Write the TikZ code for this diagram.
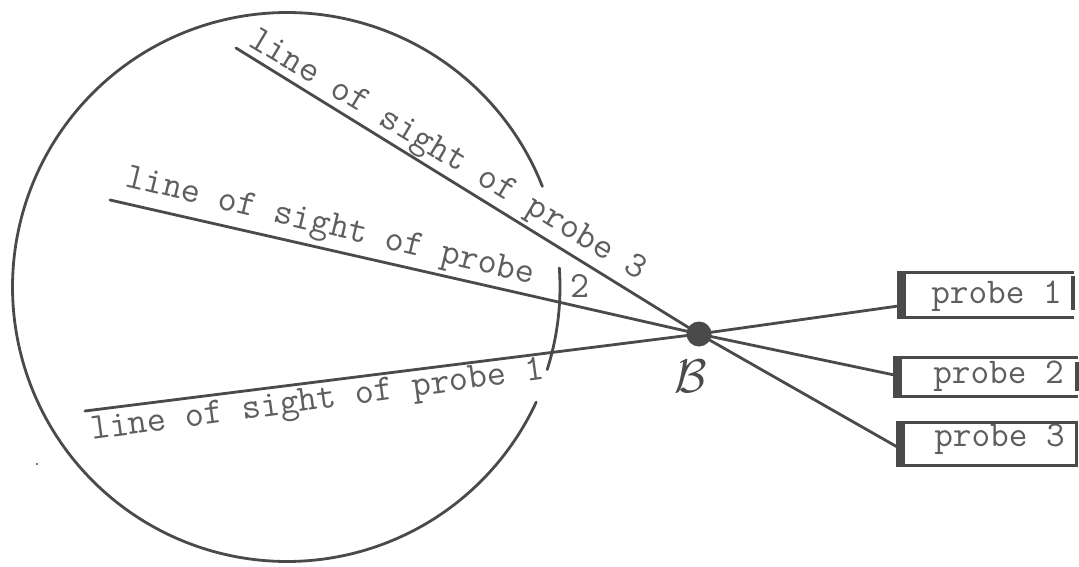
\documentclass[tikz,border=0pt]{standalone}
\definecolor{inkc}{HTML}{4A4A4A}
\definecolor{textc}{HTML}{5E5E5E}
\tikzset{
  ink/.style={draw=inkc,line width=2.8pt,line cap=round},
  sight/.style={font=\fontsize{37}{37}\selectfont\ttfamily,text=textc,inner sep=0pt,anchor=base west},
  probelabel/.style={font=\fontsize{36.2}{37}\selectfont\ttfamily,text=textc,inner sep=0pt,anchor=base east},
  probebox/.style={inner sep=0pt,minimum height=#1},
  frame/.style={draw=inkc,line width=3pt},
  heavy/.style={draw=inkc,line width=8pt},
}
\begin{document}
\begin{tikzpicture}[x=1pt,y=-1pt]
\useasboundingbox (0,0) rectangle (1079,567);
\fill[white] (0,0) rectangle (1079,567);
% circle arcs
\draw[ink] plot[domain=21.5:335.2,samples=160,smooth] ({287+274.5*cos(\x)},{287-274.5*sin(\x)});
\draw[ink] plot[domain=4:-17.6,samples=20,smooth] ({287+273*cos(\x)},{287-273*sin(\x)});
% dot
\node[circle,fill=inkc,minimum size=25pt,inner sep=0pt] (B) at (699,334) {};
\node[text=inkc,inner sep=0pt,scale=1.9,font=\fontsize{30}{30}\selectfont] (Blabel) at (691,376) {$\mathcal{B}$};
% probes
\node[probebox=45pt,minimum width=175pt] (p1) at (986,295) {};
\node[probebox=39pt,minimum width=183pt] (p2) at (986,377) {};
\node[probebox=43pt,minimum width=179pt] (p3) at (987,444) {};
\node[probelabel] (p1t) at (1062,303) {probe 1};
\node[probelabel] (p2t) at (1064,383) {probe 2};
\node[probelabel] (p3t) at (1065,446) {probe 3};
\draw[frame] (p1.north east) -- (p1.north west) -- (p1.south west) -- (p1.south east);
\draw[frame,line width=3.5pt] (1073,276) -- (1073,310);
\draw[heavy] ([xshift=4pt]p1.north west) -- ([xshift=4pt]p1.south west);
\draw[frame] (p2.north east) -- (p2.north west) -- (p2.south west) -- (p2.south east);
\draw[frame,line width=3.5pt] (1077,362) -- (1077,391);
\draw[heavy] ([xshift=4pt]p2.north west) -- ([xshift=4pt]p2.south west);
\draw[frame] (p3.north west) rectangle (p3.south east);
\draw[heavy] ([xshift=4pt]p3.north west) -- ([xshift=4pt]p3.south west);
% lines of sight
\coordinate (l1) at (85,411);
\coordinate (l2) at (110,200);
\coordinate (l3) at (236,48);
\draw[ink] (l1) -- (B.center) -- ([yshift=-11pt]p1.west);
\draw[ink] (l2) -- (B.center) -- ([yshift=2pt]p2.west);
\draw[ink] (l3) -- (B.center) -- ([yshift=-3pt]p3.west);
% labels
\node[sight,rotate=7.7] (t1) at (92,440) {line of sight of probe 1};
\node[sight,rotate=-13.5] (t2) at (124,186) {line of sight of probe};
\node[sight] (t2b) at (570,297) {2};
\node[sight,rotate=-31] (t3) at (247,45) {line of sight of probe 3};
\fill[inkc] (37,464) circle (1.2pt);
\end{tikzpicture}
\end{document}
